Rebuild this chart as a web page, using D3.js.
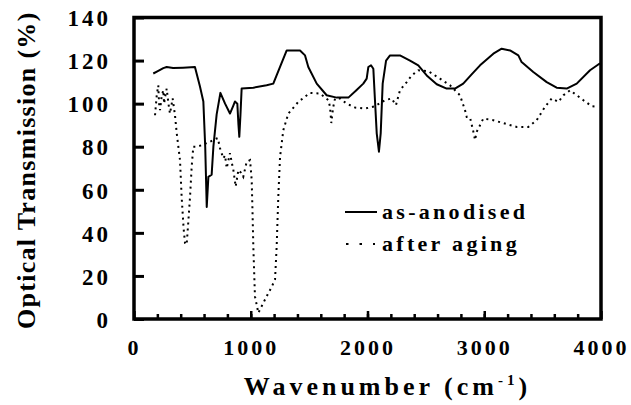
<!DOCTYPE html>
<html>
<head>
<meta charset="utf-8">
<script src="https://cdn.jsdelivr.net/npm/d3@7"></script>
<style>
	body { margin: 0; background: #fff; }
	svg text { font-family: "Liberation Serif", "Times New Roman", serif; font-weight: bold; fill: #000; }
</style>
</head>
<body>
<div id="visDiv"></div>
<script>
// DATA
var wavenumberAnodised = [165, 200, 251, 280, 335, 420, 522, 565, 594, 610, 623, 637, 665, 680, 708, 740, 780, 822, 850, 865, 885, 895, 902, 912, 922,
	1022, 1136, 1193, 1250, 1308, 1422, 1465, 1493, 1565, 1650, 1736, 1836, 1900, 1964, 1993, 2007, 2030, 2050, 2064, 2079, 2098, 2113, 2130, 2159,
	2193, 2278, 2364, 2435, 2507, 2593, 2678, 2749, 2820, 2890, 2964, 3078, 3149, 3221, 3292, 3320, 3420, 3535, 3620, 3706, 3792, 3906, 3977, 4000];
var transAnodised = [114, 115, 116.5, 117, 116.5, 116.7, 117, 108, 101, 80, 52, 66, 67, 80, 95, 105, 100, 95.4, 99, 101, 100, 90, 84.6, 95, 107,
	107.4, 108.5, 109.3, 117, 124.7, 124.7, 122.4, 117, 109.3, 103.9, 102.8, 102.8, 106, 109.3, 111.6, 117, 117.8, 116.2, 101.6, 86.2, 77.7, 86.2, 109.3, 120,
	122.4, 122.4, 120, 117.8, 113.1, 109, 107, 107, 109.3, 113.5, 117.8, 123.2, 125.5, 124.7, 122.4, 119.3, 114.7, 110, 107.4, 107, 109.3, 115.5, 118.2, 118.8];

var wavenumberAged = [180, 195, 208, 215, 223, 236, 251, 258, 266, 280, 295, 308, 320, 331, 345, 351, 366, 380, 394, 408, 425, 437, 451, 465, 480, 494, 508,
	540, 580, 651, 708, 718, 737, 765, 780, 794, 822, 840, 851, 871, 894, 915, 936, 965, 994, 1008, 1015, 1022, 1036, 1065, 1079, 1136, 1180, 1208,
	1222, 1236, 1251, 1279, 1322, 1407, 1507, 1593, 1665, 1679, 1690, 1705, 1722, 1764, 1822, 1893, 1979, 2064, 2150, 2207, 2244, 2278, 2336, 2378,
	2435, 2521, 2621, 2707, 2792, 2835, 2850, 2878, 2907, 2921, 2935, 2964, 2992, 3078, 3192, 3278, 3378, 3449, 3520, 3578, 3635, 3678, 3735, 3792,
	3849, 3921, 3977];
var transAged = [94.6, 104, 108.5, 100, 97, 103, 106.2, 100, 103, 107, 100, 95.4, 99, 102.4, 97, 94.6, 86.2, 80, 73.8, 56.8, 42, 35.3, 34.5, 45, 56.8, 70.7, 80,
	80, 80.7, 82.3, 83.8, 84, 79.2, 74.6, 76, 70, 77, 72, 69.2, 61.5, 69.2, 68, 66, 73, 73.8, 64.6, 50, 33.7, 10.5, 2.8, 4.4, 10.5, 15, 18.3,
	33.7, 56.8, 75.3, 87.7, 95.4, 100.8, 105, 104.7, 101.6, 98.5, 91, 98, 102.4, 102.4, 100, 98.2, 97.7, 98.8, 101.6, 102.4, 99.3, 106.2, 110, 113.1,
	115.5, 115.1, 111.6, 108.5, 103.9, 97, 93.8, 93.6, 86.9, 83.1, 86.9, 90, 93.1, 92.3, 90.5, 89.2, 89.2, 92.3, 98.5, 102.4, 100.8, 103.9, 106.2, 103.9,
	101.6, 98.8, 98.5];

var xTicks = [0, 1000, 2000, 3000, 4000];
var xMinorTicks = d3.range(200, 4000, 200);
var yTicks = [0, 20, 40, 60, 80, 100, 120, 140];
var seriesNames = ["as-anodised", "after aging"];

(function () {
	// DEFS
	var W = 631, H = 405,
		pLeft = 134, pRight = 601, pTop = 17.5, pBottom = 319,
		serif = '"Liberation Serif", "Times New Roman", serif';

	var svg = d3.select('#visDiv')
		.append('svg')
			.attr('width', W)
			.attr('height', H);

	var x = d3.scaleLinear().domain([0, 4000]).range([pLeft, pRight]);
	var y = d3.scaleLinear().domain([0, 140]).range([pBottom, pTop]);

	var line = d3.line()
		.x(function(d) { return x(d[0]); })
		.y(function(d) { return y(d[1]); });

	var anodised = d3.zip(wavenumberAnodised, transAnodised);
	var aged = d3.zip(wavenumberAged, transAged);

	// curves
	svg.append("path")
		.datum(aged)
		.attr("fill", "none")
		.attr("stroke", "#000")
		.attr("stroke-width", 2)
		.attr("stroke-dasharray", "2,4")
		.attr("d", line);

	svg.append("path")
		.datum(anodised)
		.attr("fill", "none")
		.attr("stroke", "#000")
		.attr("stroke-width", 2)
		.attr("stroke-linejoin", "round")
		.attr("d", line);

	// axes
	var yAxis = svg.append("g")
		.attr("transform", "translate(" + pLeft + ",0)")
		.call(d3.axisLeft(y).tickValues(yTicks).tickSize(-10).tickPadding(23))
		.attr("font-family", serif);
	yAxis.select(".domain").remove();
	yAxis.selectAll("line").attr("stroke-width", 3);
	yAxis.selectAll("text")
		.style("font-size", "23px")
		.style("letter-spacing", "3px")
		.attr("dy", "0.36em");

	var xMinor = svg.append("g")
		.attr("transform", "translate(0," + pBottom + ")")
		.call(d3.axisBottom(x).tickValues(xMinorTicks).tickSize(-5).tickFormat(""));
	xMinor.select(".domain").remove();
	xMinor.selectAll("line").attr("stroke-width", 2.5);

	var xAxis = svg.append("g")
		.attr("transform", "translate(0," + pBottom + ")")
		.call(d3.axisBottom(x).tickValues(xTicks).tickSize(-8).tickPadding(20).tickFormat(d3.format("d")))
		.attr("font-family", serif);
	xAxis.select(".domain").remove();
	xAxis.selectAll("line").attr("stroke-width", 2.5);
	xAxis.selectAll("text")
		.style("font-size", "22px")
		.style("letter-spacing", "3px")
		.attr("dx", "0px");

	// frame
	svg.append("rect")
		.attr("x", pLeft)
		.attr("y", pTop)
		.attr("width", pRight - pLeft)
		.attr("height", pBottom - pTop)
		.attr("fill", "none")
		.attr("stroke", "#000")
		.attr("stroke-width", 3.5);

	// axis titles
	svg.append("text")
		.attr("transform", "translate(35," + ((pTop + pBottom) / 2 + 2) + ") rotate(-90)")
		.attr("text-anchor", "middle")
		.style("font-size", "26px")
		.style("letter-spacing", "1.3px")
		.text("Optical Transmission (%)");

	var xt = svg.append("text")
		.attr("x", (pLeft + pRight) / 2 + 20)
		.attr("y", 395)
		.attr("text-anchor", "middle")
		.style("font-size", "26px")
		.style("letter-spacing", "4px");
	xt.append("tspan").text("Wavenumber (cm");
	xt.append("tspan").attr("dy", -10).style("font-size", "15px").text("-1");
	xt.append("tspan").attr("dy", 10).text(")");

	// legend
	var legendRows = svg.append("g").selectAll("g")
		.data(seriesNames)
		.enter().append("g")
		.attr("transform", function(d, i) { return "translate(345," + (212 + i * 32) + ")"; });

	legendRows.append("line")
		.attr("x1", function(d, i) { return i === 0 ? 0 : 1; })
		.attr("x2", function(d, i) { return i === 0 ? 32 : 30; })
		.attr("stroke", "#000")
		.attr("stroke-width", 2)
		.attr("stroke-dasharray", function(d, i) { return i === 0 ? null : "2.5,11"; });

	legendRows.append("text")
		.attr("x", 37)
		.attr("y", 7)
		.style("font-size", "22px")
		.style("letter-spacing", "3.3px")
		.text(function(d) { return d; });
}());
</script>
</body>
</html>
